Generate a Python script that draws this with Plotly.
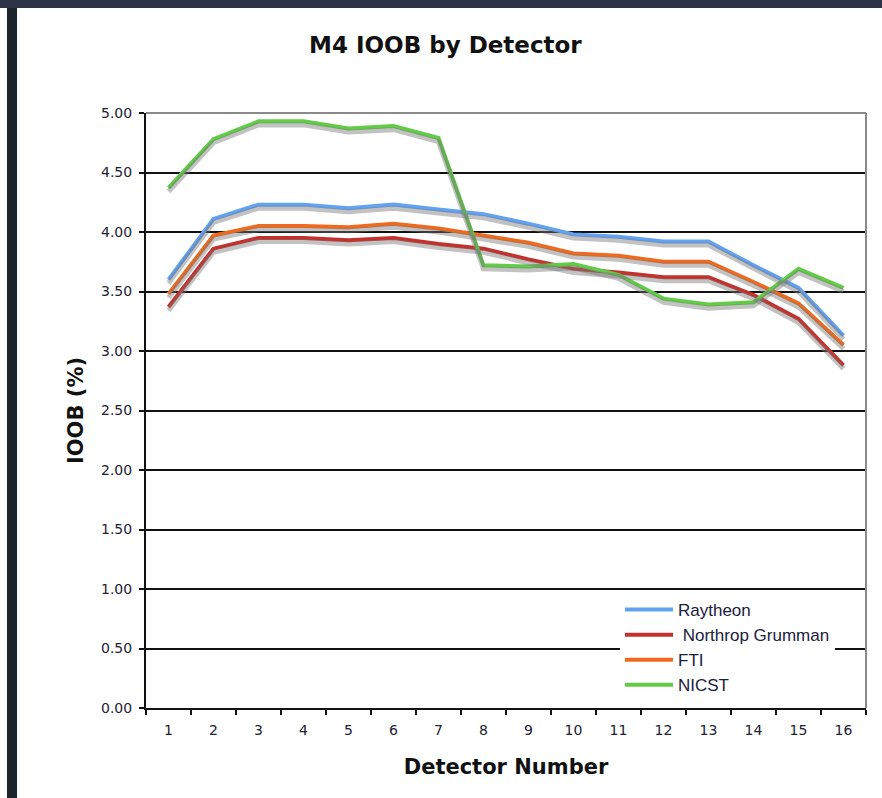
import plotly.graph_objects as go

# Detector numbers and IOOB (%) per vendor
detectors = [str(i) for i in range(1, 17)]
raytheon = [3.60, 4.11, 4.23, 4.23, 4.20, 4.23, 4.19, 4.15, 4.07, 3.98, 3.96, 3.92, 3.92, 3.72, 3.53, 3.13]
northrop = [3.37, 3.86, 3.95, 3.95, 3.93, 3.95, 3.90, 3.86, 3.77, 3.69, 3.66, 3.62, 3.62, 3.47, 3.27, 2.88]
fti = [3.48, 3.97, 4.05, 4.05, 4.04, 4.07, 4.03, 3.97, 3.91, 3.82, 3.80, 3.75, 3.75, 3.58, 3.40, 3.05]
nicst = [4.37, 4.78, 4.93, 4.93, 4.87, 4.89, 4.79, 3.72, 3.71, 3.73, 3.64, 3.44, 3.39, 3.41, 3.69, 3.53]

series = [
    ("Raytheon", raytheon, "#62a2f2"),
    ("Northrop Grumman", northrop, "#c4302b"),
    ("FTI", fti, "#ef6a1f"),
    ("NICST", nicst, "#62cc47"),
]

fig = go.Figure()

# soft drop shadows under each line (drawn on an offset overlay axis)
for name, vals, color in series:
    fig.add_trace(go.Scatter(
        x=detectors, y=vals, mode="lines", yaxis="y2",
        line=dict(color="rgba(120,120,120,0.45)", width=5),
        showlegend=False, hoverinfo="skip",
    ))

for name, vals, color in series:
    fig.add_trace(go.Scatter(
        x=detectors, y=vals, mode="lines",
        name=(" " + name if name == "Northrop Grumman" else name),
        line=dict(color=color, width=4),
    ))

W, H = 882, 798
L, R, T, B = 146, 16, 113, 90
pw, ph = W - L - R, H - T - B

def px(x):
    return (x - L) / pw

def py(y):
    return (H - B - y) / ph

shapes = [
    # window chrome: top band and left strip
    dict(type="rect", xref="paper", yref="paper", x0=px(0), x1=px(W), y0=py(8), y1=py(0),
         fillcolor="#2f3549", line=dict(width=0), layer="below"),
    dict(type="rect", xref="paper", yref="paper", x0=px(7), x1=px(17), y0=py(H), y1=py(8),
         fillcolor="#1c2529", line=dict(width=0), layer="below"),
    # plot frame top and right
    dict(type="line", xref="paper", yref="paper", x0=0, x1=1, y0=1, y1=1,
         line=dict(color="#8a8a8a", width=2)),
    dict(type="line", xref="paper", yref="paper", x0=1, x1=1, y0=0, y1=1,
         line=dict(color="#8a8a8a", width=2)),
]

fig.update_layout(
    width=W, height=H,
    margin=dict(l=L, r=R, t=T, b=B),
    paper_bgcolor="white", plot_bgcolor="white",
    font=dict(family="DejaVu Sans", color="#222222"),
    title=dict(text="<b>M4 IOOB by Detector</b>", x=0.505, xanchor="center",
               y=1 - 45 / H, yanchor="middle", font=dict(size=23, color="#111111")),
    xaxis=dict(
        type="category", categoryorder="array", categoryarray=detectors,
        range=[-0.5, 15.5], tickson="boundaries", ticks="outside", ticklen=5,
        tickcolor="#111111", tickwidth=1.5,
        showline=True, linecolor="#111111", linewidth=2,
        showgrid=False, tickfont=dict(size=14, color="#222233"),
        ticklabelstandoff=8,
        title=dict(text="<b>Detector Number</b>", font=dict(size=21, color="#111111"), standoff=23),
    ),
    yaxis=dict(
        range=[0, 5], dtick=0.5, tickformat=".2f", ticks="outside", ticklen=5,
        tickcolor="#111111", tickwidth=1.5,
        showline=True, linecolor="#111111", linewidth=2,
        showgrid=True, gridcolor="#111111", gridwidth=1.5, zeroline=False,
        tickfont=dict(size=14, color="#222233"),
        ticklabelstandoff=4,
        title=dict(text="<b>IOOB (%)</b>", font=dict(size=21, color="#111111"), standoff=12),
    ),
    yaxis2=dict(range=[0.03, 5.03], overlaying="y", visible=False),
    legend=dict(
        x=px(620), y=py(592), xanchor="left", yanchor="top",
        bgcolor="white", borderwidth=0, tracegroupgap=0,
        font=dict(family="Liberation Sans Narrow, Liberation Sans", size=17, color="#1a2040"),
        itemwidth=48,
    ),
    shapes=shapes,
)

fig.write_html("out.html")
